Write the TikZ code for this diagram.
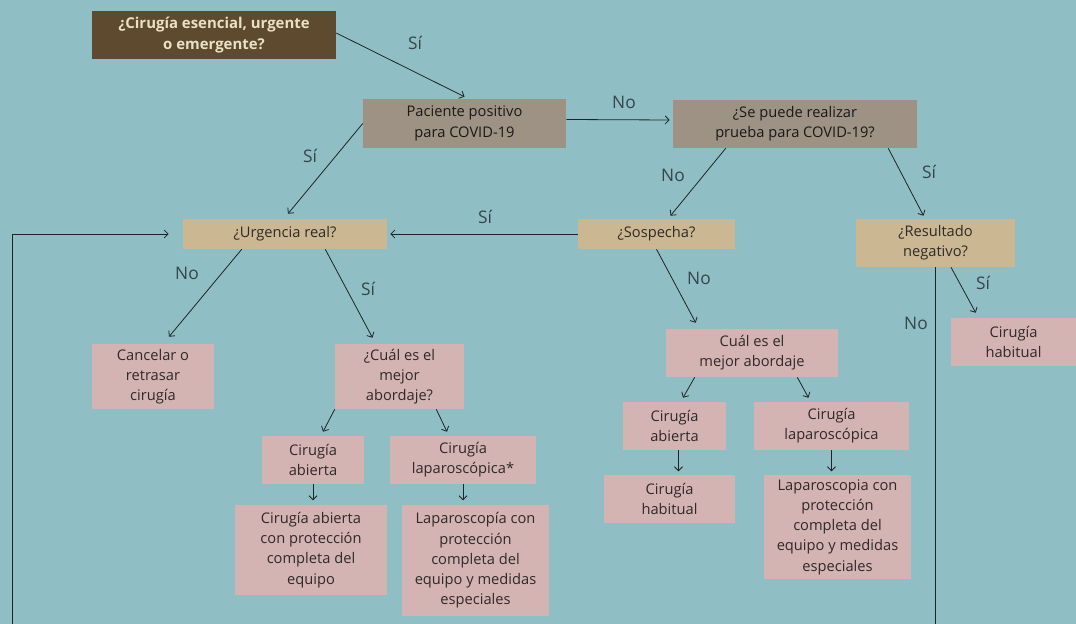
\documentclass[tikz,border=0pt]{standalone}
\usepackage{fontspec}
\setmainfont{Open Sans}
\usetikzlibrary{calc,arrows.meta}
\definecolor{bg}{HTML}{8FBFC4}
\definecolor{topfill}{HTML}{5E4A2E}
\definecolor{topText}{HTML}{E9E1C6}
\definecolor{greyfill}{HTML}{9D9283}
\definecolor{tanfill}{HTML}{CBB892}
\definecolor{pinkfill}{HTML}{D4B3B3}
\definecolor{boxText}{HTML}{2E2A28}
\definecolor{lblText}{HTML}{34464C}
\definecolor{lineCol}{HTML}{1E2426}
\newcommand\mybox[7]{\node[#6, minimum width={(#4-#2)*0.75pt}, minimum height={(#5-#3)*0.75pt}] (#1) at ({(#2+#4)/2},{(#3+#5)/2}) {#7};}
\begin{document}
\begin{tikzpicture}[x=0.75pt,y=-0.75pt,
  basebox/.style={rectangle, inner sep=0pt, align=center, text=boxText, font=\fontsize{11pt}{15.2pt}\selectfont},
  topbox/.style={basebox, fill=topfill, text=topText, font=\fontsize{11.2pt}{15.2pt}\selectfont\bfseries},
  greybox/.style={basebox, fill=greyfill, text=black!90},
  tanbox/.style={basebox, fill=tanfill},
  pinkbox/.style={basebox, fill=pinkfill},
  conn/.style={draw=lineCol, line width=0.6pt, -{Straight Barb[length=3pt,width=6pt]}},
  plain/.style={draw=lineCol, line width=0.7pt},
  lbl/.style={text=lblText, font=\fontsize{13pt}{15pt}\selectfont, inner sep=0pt}]
\fill[bg] (0,0) rectangle (1076,624);
\useasboundingbox (0,0) rectangle (1076,624);

% boxes
\mybox{top}{92}{11}{336}{59}{topbox}{¿Cirugía esencial, urgente\\o emergente?}
\mybox{pac}{363}{99}{566}{148}{greybox}{Paciente positivo\\para COVID-19}
\mybox{se}{673}{100}{917}{148}{greybox}{¿Se puede realizar\\prueba para COVID-19?}
\mybox{urg}{183}{219}{387}{249}{tanbox}{¿Urgencia real?}
\mybox{sos}{578}{219}{735}{249}{tanbox}{¿Sospecha?}
\mybox{res}{856}{219}{1015}{267}{tanbox}{¿Resultado\\negativo?}
\mybox{can}{92}{344}{214}{409}{pinkbox}{Cancelar o\\retrasar\\cirugía}
\mybox{cual}{335}{344}{464}{409}{pinkbox}{¿Cuál es el\\mejor\\abordaje?}
\mybox{ab}{262}{436}{364}{484}{pinkbox}{Cirugía\\abierta}
\mybox{lap}{390}{436}{536}{484}{pinkbox}{Cirugía\\laparoscópica*}
\mybox{abcon}{235}{505}{387}{595}{pinkbox}{Cirugía abierta\\con protección\\completa del\\equipo}
\mybox{lapcon}{402}{505}{549}{616}{pinkbox}{Laparoscopía con\\protección\\completa del\\equipo y medidas\\especiales}
\mybox{cr}{666}{329}{838}{377}{pinkbox}{Cuál es el\\mejor abordaje}
\mybox{abr}{623}{402}{726}{450}{pinkbox}{Cirugía\\abierta}
\mybox{lapr}{754}{402}{909}{450}{pinkbox}{Cirugía\\laparoscópica}
\mybox{hab}{604}{475}{735}{523}{pinkbox}{Cirugía\\habitual}
\mybox{lapconr}{764}{475}{911}{579}{pinkbox}{Laparoscopia con\\protección\\completa del\\equipo y medidas\\especiales}
\mybox{habr}{951}{318}{1076}{366}{pinkbox}{Cirugía\\habitual}

% free ends
\coordinate (fb) at (12,624);
\coordinate (resend) at (935.5,624);

% connectors
\draw[conn] ($(top.east)+(0,-2)$) -- ($(pac.north)+(0,-2)$);
\draw[conn] (pac.west) -- ($(urg.north)+(3,-5)$);
\draw[conn] ($(pac.east)+(0,-4)$) -- ($(se.west)+(-3,-4)$);
\draw[conn] ($(se.south west)+(53,0)$) -- ($(sos.north)+(14,-3)$);
\draw[conn] ($(se.south east)+(-29,0)$) -- ($(res.north)+(-12,-3)$);
\draw[conn] (sos.west) -- ($(urg.east)+(3,0)$);
\draw[conn] (sos.south) -- ($(cr.north west)+(30,-6)$);
\draw[conn] ($(urg.south west)+(59,0)$) -- ($(can.north)+(16,-7)$);
\draw[conn] ($(urg.south east)+(-62,0)$) -- ($(cual.north)+(-27,-6)$);
\draw[conn] (cual.south west) -- ($(ab.north)+(10,-4)$);
\draw[conn] ($(cual.south east)+(-28,0)$) -- ($(lap.north)+(-16,-4)$);
\draw[conn] (ab.south) -- ($(ab.south)+(0,16)$);
\draw[conn] (lap.south) -- ($(lap.south)+(0,16)$);
\draw[conn] ($(cr.south west)+(29,0)$) -- ($(abr.north)+(8.5,-4)$);
\draw[conn] ($(cr.south east)+(-41,0)$) -- ($(lapr.north)+(-23,-4)$);
\draw[conn] ($(abr.south)+(4,0)$) -- ($(abr.south)+(4,21)$);
\draw[conn] (lapr.south) -- ($(lapr.south)+(0,21)$);
\draw[conn] ($(res.south)+(15.5,0)$) -- ($(habr.north west)+(25,-5)$);
\draw[plain] (res.south) -- (resend);
\draw[conn] (fb) |- ($(urg.west)+(-14,0)$);

% labels
\node[lbl] (l1) at (415,43) {Sí};
\node[lbl] (l2) at (310,156) {Sí};
\node[lbl] (l3) at (624,102) {No};
\node[lbl] (l4) at (673,175) {No};
\node[lbl] (l5) at (929,172) {Sí};
\node[lbl] (l6) at (485,217) {Sí};
\node[lbl] (l7) at (699,278) {No};
\node[lbl] (l8) at (187,273) {No};
\node[lbl] (l9) at (368,289) {Sí};
\node[lbl] (l10) at (916,323) {No};
\node[lbl] (l11) at (983,283) {Sí};
\end{tikzpicture}
\end{document}
